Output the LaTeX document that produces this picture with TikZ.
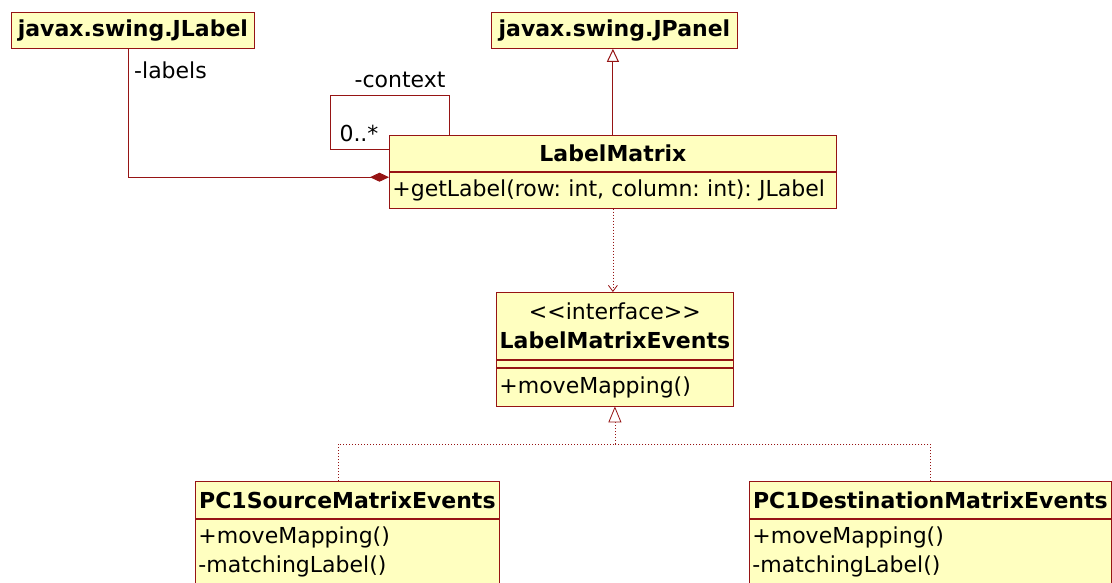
\documentclass[tikz,border=0pt]{standalone}
\usepackage{fontspec}
\setmainfont{DejaVu Sans}
\usetikzlibrary{arrows.meta}
\definecolor{umlred}{RGB}{150,20,20}
\definecolor{umlfill}{RGB}{255,255,192}
\newcommand{\umlfont}{\fontsize{22}{29}\selectfont}
\frenchspacing
\begin{document}
\begin{tikzpicture}[x=1pt,y=-1pt,
  box/.style={draw=umlred,fill=umlfill,line width=0.8pt,inner sep=3pt,anchor=north west,font=\umlfont},
  head/.style={box,font=\umlfont\bfseries},
  opsbox/.style={box,align=left},
  lbl/.style={font=\umlfont,inner sep=1pt},
  link/.style={draw=umlred,line width=1pt},
  dots/.style={link,line width=0.8pt,dash pattern=on 1pt off 2pt}]
  \useasboundingbox (0,0) rectangle (1112,583);
  \clip (0,0) rectangle (1112,583);
  \node[head,minimum width=243pt,minimum height=36pt] (jlabel) at (11,12) {javax.swing.JLabel};
  \node[head,minimum width=246pt,minimum height=36pt] (jpanel) at (491,12) {javax.swing.JPanel};
  \node[head,minimum width=447pt,minimum height=36pt] (lm) at (389,135) {LabelMatrix};
  \node[opsbox,text width=441pt,minimum height=36pt] (lmops) at (lm.south west) {\mbox{+getLabel(row: int, column: int): JLabel}};
  \node[head,minimum width=237pt,minimum height=67pt,align=center] (lme) at (496,292)
    {\mdseries\textless\kern0pt\textless\kern0pt interface\kern0pt\textgreater\kern0pt\textgreater\\LabelMatrixEvents};
  \node[box,minimum width=237pt,minimum height=7pt] (lmeattr) at (lme.south west) {};
  \node[opsbox,text width=231pt,minimum height=38pt] (lmeops) at (lmeattr.south west) {+moveMapping()};
  \node[head,minimum width=304pt,minimum height=37pt] (src) at (195,481) {PC1SourceMatrixEvents};
  \node[opsbox,text width=298pt,inner ysep=8pt] (srcops) at (src.south west) {+moveMapping()\\-matchingLabel()\\\mbox{}};
  \node[head,minimum width=362pt,minimum height=37pt] (dst) at (749,481) {PC1DestinationMatrixEvents};
  \node[opsbox,text width=356pt,inner ysep=8pt] (dstops) at (dst.south west) {+moveMapping()\\-matchingLabel()\\\mbox{}};

  \draw[link,-{Diamond[length=19pt,width=9pt]}] ([xshift=-4pt]jlabel.south) |- ([yshift=13pt]lmops.west);
  \node[lbl,anchor=west] (labels) at (133,70) {-labels};
  \draw[link] ([xshift=60pt]lm.north west) -- ++(0,-39) -- ++(-119,0) |- ([yshift=4pt]lm.west);
  \node[lbl] (context) at (400,80) {-context};
  \node[lbl] (mult) at (359,133) {0..*};
  \draw[link,-{Triangle[open,length=13pt,width=12pt,fill=white]}] (lm.north) -- (lm.north |- jpanel.south);
  \draw[dots,-{Straight Barb[length=6pt,width=9pt]}] (lmops.south) -- (lmops.south |- lme.north);
  \coordinate (join) at (lmeops.south |- 0,444);
  \draw[dots] ([xshift=-9pt]src.north) |- (join);
  \draw[dots] (dst.north) |- (join);
  \draw[dots,-{Triangle[open,length=16pt,width=13pt,fill=white]}] (join) -- (lmeops.south);
\end{tikzpicture}
\end{document}
